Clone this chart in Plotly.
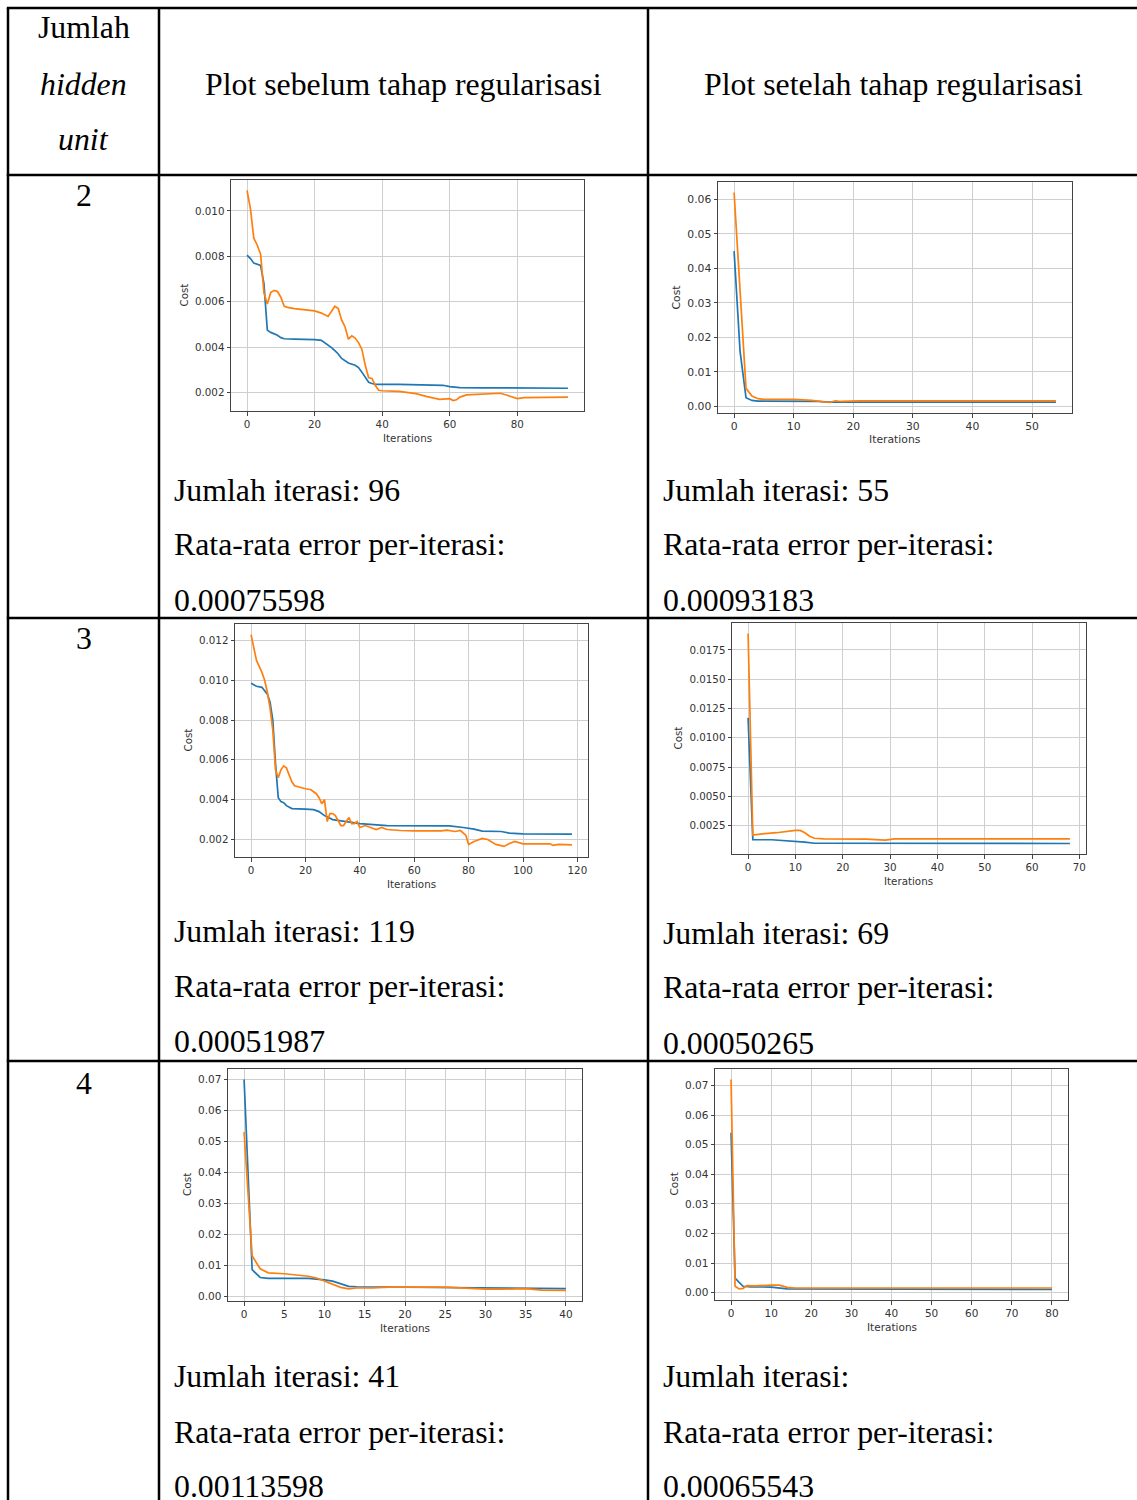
import plotly.graph_objects as go

W, H = 1137, 1500

# ---------------- data ----------------
# hidden unit 2, before regularisation
p1_n = 96
p1_blue_x = [0,1,2,3,4,5,6,7,8,9,10,11,14,18,20,22,23,24,25,26,27,28,29,30,32,33,34,35,36,37,38,45,55,58,60,63,70,80,95]
p1_blue_y = [0.00805,0.0079,0.0077,0.00765,0.0076,0.0068,0.00475,0.00465,0.0046,0.00452,0.00442,0.00437,0.00435,0.00435,0.00433,0.0043,0.0042,0.0041,0.00398,0.00385,0.0037,0.0035,0.0034,0.0033,0.0032,0.0031,0.0029,0.0027,0.00245,0.0024,0.00236,0.00236,0.00234,0.00232,0.00226,0.00222,0.00221,0.00219,0.00219]
p1_orange_x = [0,1,2,3,4,5,6,7,8,9,10,11,12,14,20,22,24,25,26,27,28,29,30,31,32,33,34,35,36,37,38,39,40,45,48,50,53,55,57,60,61,62,63,65,70,75,77,80,82,90,95]
p1_orange_y = [0.0109,0.0101,0.0088,0.0085,0.0081,0.0064,0.0059,0.0064,0.0065,0.00645,0.0062,0.0058,0.00575,0.0057,0.0056,0.0055,0.00535,0.0056,0.0058,0.0057,0.0052,0.0049,0.00435,0.0045,0.0044,0.0042,0.0039,0.0032,0.00265,0.00262,0.0023,0.0021,0.00208,0.00205,0.0020,0.00195,0.00183,0.00175,0.0017,0.00173,0.00165,0.00168,0.0018,0.0019,0.00195,0.00197,0.00188,0.00173,0.00178,0.00178,0.0018]

# hidden unit 2, after regularisation
p2_n = 55
p2_blue_x = [0,1,2,3,4,10,14,16,20,54]
p2_blue_y = [0.045,0.016,0.0025,0.0017,0.0015,0.0015,0.0014,0.0012,0.0012,0.0012]
p2_orange_x = [0,1,2,3,4,5,10,13,16,17,18,21,30,36,39,54]
p2_orange_y = [0.062,0.033,0.0052,0.003,0.0022,0.002,0.002,0.0017,0.0011,0.0016,0.0014,0.0016,0.0016,0.0015,0.0016,0.0016]

# hidden unit 3, before regularisation
p3_n = 119
p3_blue_x = [0,2,4,5,6,7,8,9,10,11,12,13,15,20,23,25,27,30,35,40,50,60,73,78,82,85,92,95,100,118]
p3_blue_y = [0.00985,0.0097,0.00965,0.0095,0.0093,0.0089,0.0080,0.0058,0.0041,0.0039,0.00385,0.0037,0.00355,0.00352,0.0035,0.0034,0.0032,0.0030,0.0029,0.0028,0.0027,0.00268,0.00268,0.0026,0.00252,0.00242,0.0024,0.00232,0.00228,0.00227]
p3_orange_x = [0,1,2,3,4,5,6,7,8,9,10,11,12,13,14,15,16,18,20,22,24,25,26,27,28,29,30,31,33,34,35,36,37,38,39,40,42,44,46,48,50,55,60,70,72,75,77,79,80,82,85,87,90,93,95,97,100,110,111,113,118]
p3_orange_y = [0.0123,0.0117,0.0110,0.0107,0.0104,0.0100,0.0094,0.0086,0.0075,0.0055,0.0051,0.0055,0.0057,0.0056,0.0052,0.0049,0.0047,0.00462,0.00455,0.0045,0.0043,0.0041,0.0038,0.0040,0.0029,0.0033,0.0033,0.0032,0.0027,0.0027,0.0029,0.0031,0.0028,0.0028,0.0029,0.0026,0.0027,0.0026,0.0025,0.0026,0.0025,0.00245,0.00243,0.00243,0.00247,0.0024,0.00245,0.0022,0.00175,0.0019,0.00205,0.0020,0.00175,0.00165,0.0018,0.0019,0.00178,0.00178,0.0017,0.00175,0.00173]

# hidden unit 3, after regularisation
p4_n = 69
p4_blue_x = [0,1,5,10,12,14,30,68]
p4_blue_y = [0.0117,0.0013,0.0013,0.0012,0.0011,0.0010,0.00099,0.00098]
p4_orange_x = [0,1,3,6,10,11,12,13,14,16,25,29,31,68]
p4_orange_y = [0.0189,0.0017,0.0018,0.0019,0.0021,0.0021,0.0019,0.0016,0.00143,0.00138,0.00135,0.00127,0.00137,0.00137]

# hidden unit 4, before regularisation
p5_n = 41
p5_blue_x = [0,1,2,3,8,9,10,11,12,13,14,20,28,33,40]
p5_blue_y = [0.070,0.0085,0.006,0.0057,0.0057,0.0055,0.0052,0.0048,0.0040,0.0031,0.0030,0.0029,0.0028,0.0025,0.0024]
p5_orange_x = [0,1,2,3,5,7,8,9,10,11,12,13,14,16,18,25,30,32,35,37,40]
p5_orange_y = [0.053,0.013,0.0088,0.0075,0.0072,0.0068,0.0064,0.0058,0.0048,0.0037,0.0028,0.0023,0.0026,0.0026,0.0029,0.0029,0.0022,0.0022,0.0024,0.0019,0.0018]

# hidden unit 4, after regularisation
p6_n = 81
p6_blue_x = [0,1,2,3,5,10,14,80]
p6_blue_y = [0.054,0.005,0.0035,0.0022,0.0020,0.0019,0.0013,0.0011]
p6_orange_x = [0,1,2,3,4,6,10,12,14,16,30,80]
p6_orange_y = [0.072,0.0022,0.0013,0.0015,0.0024,0.0023,0.0026,0.0026,0.0018,0.0016,0.0016,0.0016]

# tick labels
p1_xticks = [0,20,40,60,80];            p1_yticks = [0.002,0.004,0.006,0.008,0.010]
p2_xticks = [0,10,20,30,40,50];         p2_yticks = [0.00,0.01,0.02,0.03,0.04,0.05,0.06]
p3_xticks = [0,20,40,60,80,100,120];    p3_yticks = [0.002,0.004,0.006,0.008,0.010,0.012]
p4_xticks = [0,10,20,30,40,50,60,70];   p4_yticks = [0.0025,0.0050,0.0075,0.0100,0.0125,0.0150,0.0175]
p5_xticks = [0,5,10,15,20,25,30,35,40]; p5_yticks = [0.00,0.01,0.02,0.03,0.04,0.05,0.06,0.07]
p6_xticks = [0,10,20,30,40,50,60,70,80];p6_yticks = [0.00,0.01,0.02,0.03,0.04,0.05,0.06,0.07]
p1_yfmt, p2_yfmt, p3_yfmt, p4_yfmt, p5_yfmt, p6_yfmt = ".3f", ".2f", ".3f", ".4f", ".2f", ".2f"

# table texts
header_col1 = ["Jumlah", "<i>hidden</i>", "<i>unit</i>"]
header_col2 = "Plot sebelum tahap regularisasi"
header_col3 = "Plot setelah tahap regularisasi"
hidden_units = ["2", "3", "4"]
iter_before = ["Jumlah iterasi: 96", "Jumlah iterasi: 119", "Jumlah iterasi: 41"]
iter_after = ["Jumlah iterasi: 55", "Jumlah iterasi: 69", "Jumlah iterasi:"]
err_label = "Rata-rata error per-iterasi:"
err_before = ["0.00075598", "0.00051987", "0.00113598"]
err_after = ["0.00093183", "0.00050265", "0.00065543"]

BLUE = "#1f77b4"
ORANGE = "#ff7f0e"

# ---------------- layout helpers ----------------
def px_x(x):
    return x / W

def px_y(y):
    return 1 - y / H

plots = [
    dict(n=p1_n, bx=p1_blue_x, by=p1_blue_y, ox=p1_orange_x, oy=p1_orange_y, xt=p1_xticks, yt=p1_yticks, fmt=p1_yfmt,
         box=(231, 584, 180, 411), cost_dx=48, fs=10.3),
    dict(n=p2_n, bx=p2_blue_x, by=p2_blue_y, ox=p2_orange_x, oy=p2_orange_y, xt=p2_xticks, yt=p2_yticks, fmt=p2_yfmt,
         box=(718, 1072, 182, 413), cost_dx=42, fs=10.8),
    dict(n=p3_n, bx=p3_blue_x, by=p3_blue_y, ox=p3_orange_x, oy=p3_orange_y, xt=p3_xticks, yt=p3_yticks, fmt=p3_yfmt,
         box=(235, 588, 624, 857), cost_dx=48, fs=10.3),
    dict(n=p4_n, bx=p4_blue_x, by=p4_blue_y, ox=p4_orange_x, oy=p4_orange_y, xt=p4_xticks, yt=p4_yticks, fmt=p4_yfmt,
         box=(732, 1086, 623, 854), cost_dx=54, fs=10.3),
    dict(n=p5_n, bx=p5_blue_x, by=p5_blue_y, ox=p5_orange_x, oy=p5_orange_y, xt=p5_xticks, yt=p5_yticks, fmt=p5_yfmt,
         box=(228, 582, 1069, 1301), cost_dx=41, fs=10.5),
    dict(n=p6_n, bx=p6_blue_x, by=p6_blue_y, ox=p6_orange_x, oy=p6_orange_y, xt=p6_xticks, yt=p6_yticks, fmt=p6_yfmt,
         box=(715, 1068, 1069, 1300), cost_dx=42, fs=10.5),
]

fig = go.Figure()
layout = dict(
    width=W, height=H, autosize=False,
    margin=dict(l=0, r=0, t=0, b=0),
    paper_bgcolor="white", plot_bgcolor="white",
    showlegend=False,
)
annotations = []
shapes = []

TICKFONT = "DejaVu Sans"
for i, p in enumerate(plots, start=1):
    xa = "x" if i == 1 else f"x{i}"
    ya = "y" if i == 1 else f"y{i}"
    fig.add_trace(go.Scatter(x=p["bx"], y=p["by"], mode="lines", line=dict(color=BLUE, width=1.7),
                             xaxis=xa, yaxis=ya))
    fig.add_trace(go.Scatter(x=p["ox"], y=p["oy"], mode="lines", line=dict(color=ORANGE, width=1.7),
                             xaxis=xa, yaxis=ya))
    allv = p["by"] + p["oy"]
    lo, hi = min(allv), max(allv)
    pad = 0.05 * (hi - lo)
    xmax = p["n"] - 1
    l, r, t, b = p["box"]
    common = dict(showline=True, mirror=True, linecolor="#444", linewidth=1,
                  showgrid=True, gridcolor="#cfcfcf", gridwidth=1, zeroline=False,
                  ticks="outside", ticklen=3.5, tickwidth=1, tickcolor="#444",
                  tickfont=dict(family=TICKFONT, size=p["fs"], color="#333"))
    layout["xaxis" if i == 1 else f"xaxis{i}"] = dict(
        domain=[px_x(l), px_x(r)], anchor=ya, range=[-0.05 * xmax, 1.05 * xmax],
        tickmode="array", tickvals=p["xt"], ticktext=[str(v) for v in p["xt"]], **common)
    layout["yaxis" if i == 1 else f"yaxis{i}"] = dict(
        domain=[px_y(b), px_y(t)], anchor=xa, range=[lo - pad, hi + pad],
        tickmode="array", tickvals=p["yt"], ticktext=[format(v, p["fmt"]) for v in p["yt"]], **common)
    annotations.append(dict(text="Cost", x=px_x(l - p["cost_dx"]), y=px_y((t + b) / 2), xref="paper", yref="paper",
                            textangle=-90, showarrow=False, xanchor="center", yanchor="middle",
                            font=dict(family=TICKFONT, size=p["fs"], color="#333")))
    annotations.append(dict(text="Iterations", x=px_x((l + r) / 2), y=px_y(b + 26.5), xref="paper", yref="paper",
                            showarrow=False, xanchor="center", yanchor="middle",
                            font=dict(family=TICKFONT, size=p["fs"], color="#333")))

# ---------------- table ----------------
LW = 2.5
def hline(y, x0=8, x1=W):
    shapes.append(dict(type="line", xref="paper", yref="paper", x0=px_x(x0), x1=px_x(x1), y0=px_y(y), y1=px_y(y),
                       line=dict(color="black", width=LW)))

def vline(x, y0=8, y1=H):
    shapes.append(dict(type="line", xref="paper", yref="paper", x0=px_x(x), x1=px_x(x), y0=px_y(y0), y1=px_y(y1),
                       line=dict(color="black", width=LW)))

for yy in [8, 175, 618, 1061]:
    hline(yy, x0=6.8)
for xx in [8, 159, 648]:
    vline(xx)

SERIF = "Liberation Serif"
TS = 31.8
def txt(s, x, y, anchor="left"):
    annotations.append(dict(text=s, x=px_x(x), y=px_y(y), xref="paper", yref="paper", showarrow=False,
                            xanchor=anchor, yanchor="middle", font=dict(family=SERIF, size=TS, color="black")))

for s, yy in zip(header_col1, [27, 84, 139]):
    txt(s, 83.5, yy, "center")
txt(header_col2, 403.5, 84, "center")
txt(header_col3, 893, 84, "center")

row_num_y = [195, 639, 1083]
row_text_y_left = [(490, 545, 600), (931, 986, 1041), (1376, 1432, 1486)]
row_text_y_right = [(490, 545, 600), (933, 988, 1043), (1376, 1432, 1486)]
for k in range(3):
    txt(hidden_units[k], 83.5, row_num_y[k], "center")
    a, b2, c = row_text_y_left[k]
    txt(iter_before[k], 172, a)
    txt(err_label, 172, b2)
    txt(err_before[k], 172, c)
    a, b2, c = row_text_y_right[k]
    txt(iter_after[k], 661, a)
    txt(err_label, 661, b2)
    txt(err_after[k], 661, c)

layout["annotations"] = annotations
layout["shapes"] = shapes
fig.update_layout(**layout)
fig.write_html("out.html",
               config={"displayModeBar": False},
               post_script="document.body.style.margin='0px';document.documentElement.style.overflow='hidden';")
